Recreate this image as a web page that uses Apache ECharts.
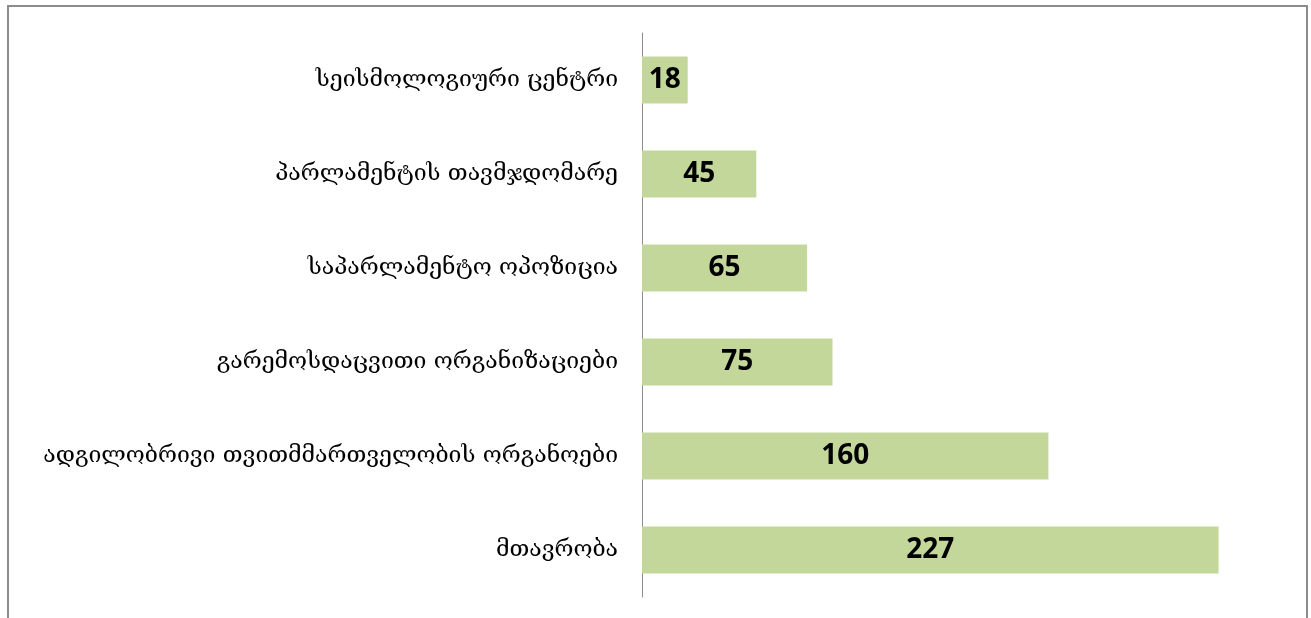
<!DOCTYPE html>
<html>
<head>
<meta charset="utf-8">
<script src="https://cdn.jsdelivr.net/npm/echarts@6/dist/echarts.min.js"></script>
<style>
	html, body { margin: 0; padding: 0; background: #fff; }
	#frame {
		position: absolute;
		left: 7px;
		top: 5px;
		width: 1297px;
		height: 640px;
		border: 2px solid #8c8c8c;
		border-bottom: none;
	}
	#chart { position: absolute; left: 0; top: 0; width: 1311px; height: 618px; }
</style>
</head>
<body>
<div id="frame"></div>
<div id="chart"></div>
<script>
	// კატეგორიები ზემოდან ქვემოთ
	var categories = [
		'სეისმოლოგიური ცენტრი',
		'პარლამენტის თავმჯდომარე',
		'საპარლამენტო ოპოზიცია',
		'გარემოსდაცვითი ორგანიზაციები',
		'ადგილობრივი თვითმმართველობის ორგანოები',
		'მთავრობა'
	];
	var values = [18, 45, 65, 75, 160, 227];

	var myChart = echarts.init(document.getElementById('chart'));
	var option = {
		animation: false,
		grid: {
			left: 642,
			top: 33,
			width: 635,
			height: 564
		},
		xAxis: {
			type: 'value',
			min: 0,
			max: 250,
			show: false
		},
		yAxis: {
			type: 'category',
			inverse: true,
			data: categories,
			axisLine: {
				show: true,
				lineStyle: { color: '#8c8c8c', width: 1 }
			},
			axisTick: { show: false },
			axisLabel: {
				margin: 24,
				fontFamily: 'DejaVu Serif',
				fontSize: 23,
				color: '#000'
			}
		},
		series: [{
			type: 'bar',
			data: values,
			barWidth: '50%',
			itemStyle: { color: '#c4d79b' },
			label: {
				show: true,
				position: 'inside',
				color: '#000',
				fontFamily: 'Open Sans',
				fontWeight: 'bold',
				fontSize: 28
			}
		}]
	};
	myChart.setOption(option);
</script>
</body>
</html>
